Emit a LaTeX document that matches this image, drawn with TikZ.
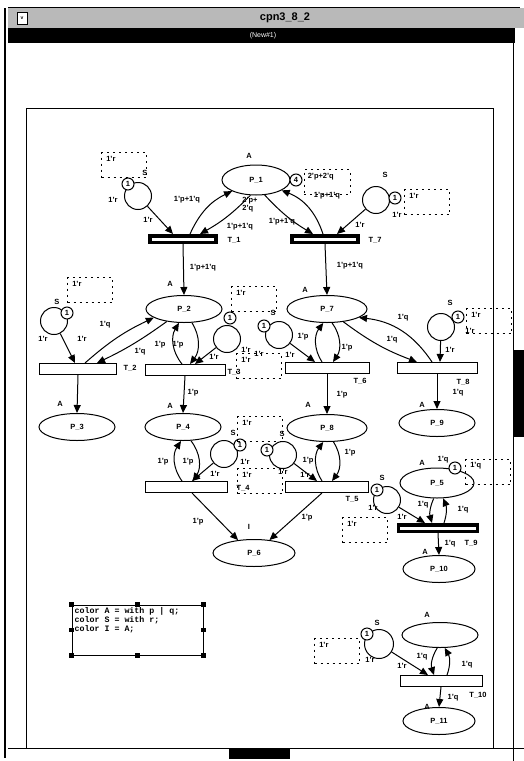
\documentclass[tikz,border=0pt]{standalone}
\usepackage{fontspec}
\setmainfont{Liberation Sans}
\setsansfont{Liberation Sans}
\setmonofont{Liberation Mono}
\usetikzlibrary{shapes.geometric,arrows.meta}
\newcommand\cpnlbl{\fontsize{7.5}{8}\selectfont\bfseries}
\newcommand\cpndecl{\fontsize{8.3}{6.3}\selectfont\ttfamily\bfseries}
\tikzset{
  place/.style={ellipse,draw,line width=1pt,minimum width=76pt,minimum height=27pt,inner sep=0pt,font=\cpnlbl},
  trans/.style={rectangle,draw,line width=1pt,minimum width=80pt,minimum height=11pt,inner sep=0pt},
  thicktrans/.style={rectangle,draw,line width=3.5pt,minimum width=66pt,minimum height=6.5pt,inner sep=0pt},
  resplace/.style={circle,draw,line width=1pt,minimum size=27pt,inner sep=0pt},
  tokencirc/.style={circle,draw,fill=white,line width=1pt,minimum size=12pt,inner sep=0pt,font=\cpnlbl},
  markbox/.style={rectangle,draw,line width=0.9pt,dash pattern=on 2pt off 4pt,minimum width=45pt,minimum height=25pt,inner sep=0pt},
  lbl/.style={font=\cpnlbl,inner sep=0pt},
  arc/.style={-{Triangle[length=8pt,width=7pt]},line width=1pt},
  handle/.style={rectangle,fill=black,minimum size=4.5pt,inner sep=0pt},
}
\begin{document}
\begin{tikzpicture}[x=1pt,y=-1pt]
\path[use as bounding box] (0,0) rectangle (524,761);
% window frame
\fill[gray!55] (8,8) rectangle (524,28);
\draw[line width=1pt] (8,7) -- (520,7);
\node[draw,fill=white,minimum width=10pt,minimum height=12pt,inner sep=0pt,font=\tiny\bfseries] (winicon) at (22,18) {v};
\node[font=\fontsize{11}{12}\selectfont\bfseries] (wintitle) at (285,18) {cpn3\_8\_2};
\fill[black] (8,28) rectangle (515,43);
\node[text=white,font=\fontsize{7}{8}\selectfont] (winname) at (263,36) {(New\#1)};
\draw[line width=2.5pt] (5,8) -- (5,758);
\draw[line width=1pt] (513,43) -- (513,761);
\fill[black] (514,350) rectangle (524,437);
\draw[line width=1pt] (8,748) -- (524,748);
\fill[black] (229,749) rectangle (290,759);
% page
\draw[line width=1pt] (26,748) -- (26,108) -- (493,108) -- (493,748);

% places
\node[place,minimum width=68pt,minimum height=30pt] (P1) at (256,180) {P\_1};
\node[place] (P2) at (184,309) {P\_2};
\node[place,minimum width=80pt] (P7) at (327,309) {P\_7};
\node[place] (P3) at (77,427) {P\_3};
\node[place] (P4) at (183,427) {P\_4};
\node[place,minimum width=80pt] (P8) at (327,428) {P\_8};
\node[place] (P9) at (437,423) {P\_9};
\node[place,minimum width=74pt,minimum height=30pt] (P5) at (437,483) {P\_5};
\node[place,minimum width=82pt] (P6) at (254,553) {P\_6};
\node[place,minimum width=72pt] (P10) at (439,569) {P\_10};
\node[place,minimum height=25pt] (P12) at (440,635) {};
\node[place,minimum width=72pt] (P11) at (439,721) {P\_11};
\node[lbl] (P1c) at (249,156) {A};
\node[lbl] (P2c) at (170,284) {A};
\node[lbl] (P7c) at (305,290) {A};
\node[lbl] (P3c) at (60,404) {A};
\node[lbl] (P4c) at (170,406) {A};
\node[lbl] (P8c) at (308,405) {A};
\node[lbl] (P9c) at (422,405) {A};
\node[lbl] (P5c) at (422,463) {A};
\node[lbl] (P6c) at (249,527) {I};
\node[lbl] (P10c) at (425,552) {A};
\node[lbl] (P12c) at (427,615) {A};
\node[lbl] (P11c) at (427,707) {A};
\node[lbl,align=left] (P1i) at (250,205) {2'p+\\2'q};
\node[tokencirc] (P1k) at (296,180) {4};
\node[markbox,minimum width=46pt] (P1m) at (327,182) {};
\node[lbl,anchor=north west] (P1mt) at ([shift={(4pt,-4pt)}]P1m.north west) {2'p+2'q};
\node[lbl] (P5i) at (443,460) {1'q};
\node[tokencirc] (P5k) at (455,468) {1};
\node[markbox] (P5m) at (488,472) {};
\node[lbl,anchor=north west] (P5mt) at ([shift={(5pt,-3pt)}]P5m.north west) {1'q};

% transitions
\node[thicktrans] (T1) at (183,239) {};
\node[thicktrans] (T7) at (325,239) {};
\node[trans,minimum width=77pt] (T2) at (78,369) {};
\node[trans] (T3) at (185,370) {};
\node[trans,minimum width=84pt] (T6) at (327,368) {};
\node[trans] (T8) at (437,368) {};
\node[trans,minimum width=82pt] (T4) at (186,487) {};
\node[trans,minimum width=83pt] (T5) at (327,487) {};
\node[thicktrans,minimum width=79pt] (T9) at (438,528) {};
\node[trans,minimum width=82pt] (T10) at (441,681) {};
\node[lbl] (T1n) at (234,240) {T\_1};
\node[lbl] (T7n) at (375,240) {T\_7};
\node[lbl] (T2n) at (130,368) {T\_2};
\node[lbl] (T3n) at (234,372) {T\_3};
\node[lbl] (T6n) at (360,381) {T\_6};
\node[lbl] (T8n) at (463,382) {T\_8};
\node[lbl] (T4n) at (243,488) {T\_4};
\node[lbl] (T5n) at (352,499) {T\_5};
\node[lbl] (T9n) at (471,543) {T\_9};
\node[lbl] (T10n) at (478,695) {T\_10};

% resource places S
\node[resplace] (S1) at (138,196) {};
\node[resplace] (S7) at (376,200) {};
\node[resplace] (S2) at (54,321) {};
\node[resplace] (S3) at (227,339) {};
\node[resplace] (S6) at (279,335) {};
\node[resplace] (S8) at (441,327) {};
\node[resplace] (S4) at (224,454) {};
\node[resplace] (S5) at (283,455) {};
\node[resplace] (S9) at (387,500) {};
\node[resplace,minimum size=29pt] (S10) at (379,644) {};
\node[tokencirc] (S1k) at (128,184) {1};
\node[tokencirc] (S7k) at (395,198) {1};
\node[tokencirc] (S2k) at (67,313) {1};
\node[tokencirc] (S3k) at (230,318) {1};
\node[tokencirc] (S6k) at (264,326) {1};
\node[tokencirc] (S8k) at (458,317) {1};
\node[tokencirc] (S4k) at (240,445) {1};
\node[tokencirc] (S5k) at (267,450) {1};
\node[tokencirc] (S9k) at (377,490) {1};
\node[tokencirc] (S10k) at (367,634) {1};
\node[lbl] (S1c) at (145,173) {S};
\node[lbl] (S7c) at (385,175) {S};
\node[lbl] (S2c) at (57,302) {S};
\node[lbl] (S6c) at (273,313) {S};
\node[lbl] (S8c) at (450,303) {S};
\node[lbl] (S4c) at (233,433) {S};
\node[lbl] (S5c) at (282,434) {S};
\node[lbl] (S9c) at (382,478) {S};
\node[lbl] (S10c) at (377,623) {S};
\node[lbl] (S1i) at (113,200) {1'r};
\node[lbl] (S7i) at (397,215) {1'r};
\node[lbl] (S2i) at (43,339) {1'r};
\node[lbl] (S3i) at (246,350) {1'r};
\node[lbl] (S6i) at (259,354) {1'r};
\node[lbl] (S8i) at (470,331) {1'r};
\node[lbl] (S4i) at (245,462) {1'r};
\node[lbl] (S5i) at (283,472) {1'r};
\node[lbl] (S9i) at (373,508) {1'r};
\node[lbl] (S10i) at (370,660) {1'r};
% current markings
\node[markbox] (S1m) at (124,165) {};
\node[markbox] (S7m) at (427,202) {};
\node[markbox] (S2m) at (90,290) {};
\node[markbox] (S3m) at (254,299) {};
\node[markbox] (S6m) at (259,366) {};
\node[markbox] (S8m) at (489,321) {};
\node[markbox] (S4m) at (260,429) {};
\node[markbox] (S5m) at (260,481) {};
\node[markbox] (S9m) at (365,530) {};
\node[markbox] (S10m) at (337,651) {};
\foreach \m in {S1m,S7m,S2m,S3m,S6m,S8m,S4m,S5m,S9m,S10m}
  \node[lbl,anchor=north west] (\m t) at ([shift={(5pt,-4pt)}]\m.north west) {1'r};

% arcs
\draw[arc] (S1) -- ([xshift=-10pt]T1.north);
\draw[arc] ([xshift=7pt]T1.north) to[bend left=20] (P1.205);
\draw[arc] (P1.250) to[bend left=8] ([xshift=17pt]T1.north);
\draw[arc] (P1.300) to[bend right=8] ([xshift=-12pt]T7.north);
\draw[arc] ([xshift=-2pt]T7.north) to[bend right=25] (P1.338);
\draw[arc] (S7) -- ([xshift=12pt]T7.north);
\draw[arc] (T1.south) -- (P2.north);
\draw[arc] (T7.south) -- (P7.north);
\draw[arc] (S2) -- ([xshift=-3pt]T2.north);
\draw[arc] ([xshift=7pt]T2.north) to[bend left=8] (P2.196);
\draw[arc] (P2.216) to[bend left=5] ([xshift=19pt]T2.north);
\draw[arc] ([xshift=-3pt]T3.north) to[bend left=35] (P2.250);
\draw[arc] (P2.300) to[bend left=35] ([xshift=5pt]T3.north);
\draw[arc] (S3) -- ([xshift=10pt]T3.north);
\draw[arc] (T2.south) -- (P3.north);
\draw[arc] (T3.south) -- (P4.north);
\draw[arc] ([xshift=-5pt]T6.north) to[bend left=35] (P7.255);
\draw[arc] (P7.290) to[bend left=35] ([xshift=6pt]T6.north);
\draw[arc] (S6) -- ([xshift=-12pt]T6.north);
\draw[arc] (P7.322) to[bend right=8] ([xshift=-20pt]T8.north);
\draw[arc] ([xshift=-5pt]T8.north) to[bend right=25] (P7.345);
\draw[arc] (S8) -- ([xshift=3pt]T8.north);
\draw[arc] (T6.south) -- (P8.north);
\draw[arc] (T8.south) -- (P9.north);
\draw[arc] ([xshift=-4pt]T4.north) to[bend left=35] (P4.262);
\draw[arc] (P4.300) to[bend left=35] ([xshift=7pt]T4.north);
\draw[arc] (S4) -- ([xshift=6pt]T4.north);
\draw[arc] ([xshift=-5pt]T5.north) to[bend left=35] (P8.255);
\draw[arc] (P8.295) to[bend left=35] ([xshift=5pt]T5.north);
\draw[arc] (S5) -- ([xshift=-10pt]T5.north);
\draw[arc] ([xshift=6pt]T4.south) -- (P6.141);
\draw[arc] ([xshift=-5pt]T5.south) -- (P6.40);
\draw[arc] (P5.258) to[bend right=20] ([xshift=-6pt]T9.north);
\draw[arc] ([xshift=6pt]T9.north) to[bend right=20] (P5.292);
\draw[arc] (S9) -- ([xshift=-13pt]T9.north);
\draw[arc] (T9.south) -- (P10.north);
\draw[arc] (P12.258) to[bend right=25] ([xshift=-7pt]T10.north);
\draw[arc] ([xshift=6pt]T10.north) to[bend right=25] (P12.290);
\draw[arc] (S10) -- ([xshift=-13pt]T10.north);
\draw[arc] (T10.south) -- (P11.north);

% arc inscriptions
\node[lbl] (a1) at (148,220) {1'r};
\node[lbl] (a2) at (187,200) {1'p+1'q};
\node[lbl] (a3) at (240,227) {1'p+1'q};
\node[lbl] (a4) at (282,222) {1'p+1'q};
\node[lbl] (a5) at (327,196) {1'p+1'q};
\node[lbl] (a6) at (360,225) {1'r};
\node[lbl] (a7) at (203,268) {1'p+1'q};
\node[lbl] (a8) at (350,266) {1'p+1'q};
\node[lbl] (a9) at (82,339) {1'r};
\node[lbl] (a10) at (105,325) {1'q};
\node[lbl] (a11) at (140,352) {1'q};
\node[lbl] (a12) at (160,345) {1'p};
\node[lbl] (a13) at (178,345) {1'p};
\node[lbl] (a14) at (214,357) {1'r};
\node[lbl] (a15) at (193,393) {1'p};
\node[lbl] (a16) at (303,337) {1'p};
\node[lbl] (a17) at (347,348) {1'p};
\node[lbl] (a18) at (290,355) {1'r};
\node[lbl] (a19) at (392,340) {1'q};
\node[lbl] (a20) at (403,318) {1'q};
\node[lbl] (a21) at (450,350) {1'r};
\node[lbl] (a22) at (342,395) {1'p};
\node[lbl] (a23) at (458,393) {1'q};
\node[lbl] (a24) at (163,462) {1'p};
\node[lbl] (a25) at (188,462) {1'p};
\node[lbl] (a26) at (215,474) {1'r};
\node[lbl] (a27) at (305,475) {1'r};
\node[lbl] (a28) at (308,461) {1'p};
\node[lbl] (a29) at (350,453) {1'p};
\node[lbl] (a30) at (198,522) {1'p};
\node[lbl] (a31) at (307,518) {1'p};
\node[lbl] (a32) at (423,505) {1'q};
\node[lbl] (a33) at (463,510) {1'q};
\node[lbl] (a34) at (402,517) {1'r};
\node[lbl] (a35) at (450,544) {1'q};
\node[lbl] (a36) at (422,657) {1'q};
\node[lbl] (a37) at (467,665) {1'q};
\node[lbl] (a38) at (402,666) {1'r};
\node[lbl] (a39) at (453,698) {1'q};

% declarations
\node[draw,line width=1pt,minimum width=131pt,minimum height=50pt,inner sep=0pt] (decl) at (137.5,630) {};
\foreach \a in {north west,north,north east,west,east,south west,south,south east}
  \node[handle] at (decl.\a) {};
\node[anchor=north west,align=left,inner sep=0pt,font=\cpndecl] (declt) at ([shift={(3pt,-3pt)}]decl.north west)
  {color A = with p | q;\\color S = with r;\\color I = A;};
\end{tikzpicture}
\end{document}
